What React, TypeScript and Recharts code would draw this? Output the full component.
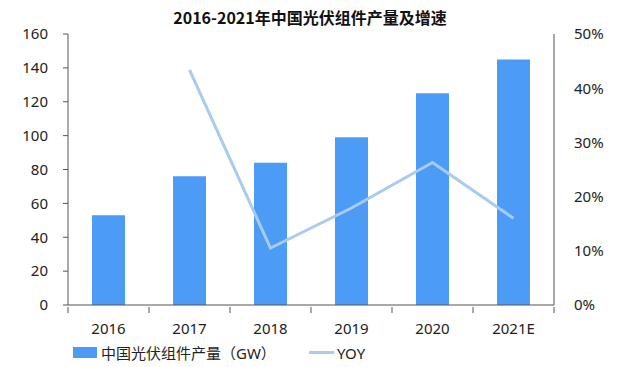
import React from 'react';
import { ComposedChart, Bar, Line, XAxis, YAxis } from 'recharts';

const years = ['2016', '2017', '2018', '2019', '2020', '2021E'];
const output = [53, 76, 84, 99, 125, 145];
const yoy = [null, 43.4, 10.5, 17.9, 26.3, 16.0];
const leftTicks = [0, 20, 40, 60, 80, 100, 120, 140, 160];
const rightTicks = [0, 10, 20, 30, 40, 50];

const data = years.map((y, i) => ({ name: y, output: output[i], yoy: yoy[i] }));

const FONT = '"Noto Sans", "Noto Sans CJK SC", sans-serif';
const TITLE_FONT = '"Noto Sans CJK SC", "Noto Sans", sans-serif';
const BAR = '#4c9bf5';
const LINE = '#a8cbf0';
const AXIS = '#555';

const XTick = (props: any) => {
  const { x, y, payload, index, width, visibleTicksCount } = props;
  const band = width && visibleTicksCount ? width / visibleTicksCount : 81;
  return (
    <g>
      <line x1={x - band / 2} x2={x - band / 2} y1={y - 6} y2={y} stroke={AXIS} />
      {index === years.length - 1 && (
        <line x1={x + band / 2} x2={x + band / 2} y1={y - 6} y2={y} stroke={AXIS} />
      )}
      <text x={x} y={y + 21} textAnchor="middle" fill="#222" fontSize={15} fontFamily={FONT}>
        {payload.value}
      </text>
    </g>
  );
};

export default function App() {
  return (
    <div style={{ position: 'absolute', left: 0, top: 0, width: 640, height: 367, background: '#fff', fontFamily: FONT }}>
      <div style={{ position: 'absolute', top: 5, left: 0, width: 620, textAlign: 'center', fontSize: 16, fontWeight: 700, color: '#111', fontFamily: TITLE_FONT }}>
        2016-2021年中国光伏组件产量及增速
      </div>
      <ComposedChart width={640} height={367} data={data} margin={{ top: 34, right: 0, bottom: 32, left: 0 }}>
        <XAxis
          dataKey="name"
          height={30}
          stroke={AXIS}
          tickLine={false}
          tick={<XTick />}
          interval={0}
        />
        <YAxis
          yAxisId="left"
          width={68}
          domain={[0, 160]}
          ticks={leftTicks}
          stroke={AXIS}
          tickSize={5}
          tickMargin={15}
          tick={{ fill: '#222', fontSize: 15, fontFamily: FONT }}
          interval={0}
        />
        <YAxis
          yAxisId="right"
          orientation="right"
          width={86}
          domain={[0, 50]}
          ticks={rightTicks}
          stroke={AXIS}
          tickLine={false}
          tickMargin={14}
          tickFormatter={(v: number) => `${v}%`}
          tick={{ fill: '#222', fontSize: 15, fontFamily: FONT }}
          interval={0}
        />
        <Bar yAxisId="left" dataKey="output" fill={BAR} barSize={33} isAnimationActive={false} />
        <Line
          yAxisId="right"
          dataKey="yoy"
          stroke={LINE}
          strokeWidth={3}
          dot={false}
          connectNulls={false}
          isAnimationActive={false}
        />
      </ComposedChart>
      <div style={{ position: 'absolute', top: 342, left: 73, display: 'flex', alignItems: 'center', fontSize: 15, color: '#222' }}>
        <span style={{ display: 'inline-block', width: 24, height: 11, background: BAR, marginRight: 4 }} />
        <span>中国光伏组件产量（GW）</span>
        <span style={{ display: 'inline-block', width: 25, height: 3, background: LINE, marginLeft: 33, marginRight: 3 }} />
        <span>YOY</span>
      </div>
    </div>
  );
}
